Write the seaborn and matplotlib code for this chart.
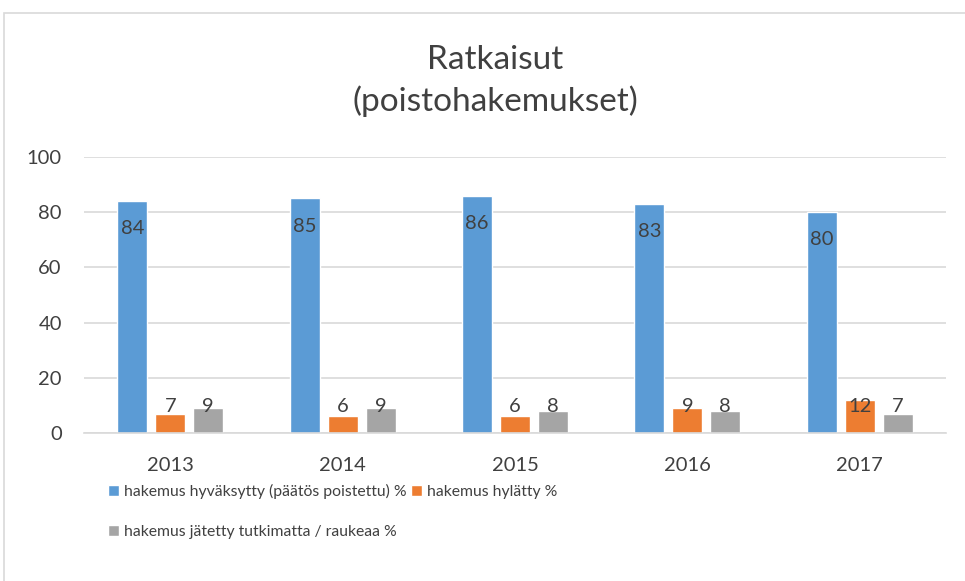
import pandas as pd
import numpy as np
import matplotlib.pyplot as plt
import seaborn as sns
from matplotlib.patches import Rectangle

# Chart data
years = ['2013', '2014', '2015', '2016', '2017']
hyvaksytty = [84, 85, 86, 83, 80]
hylatty = [7, 6, 6, 9, 12]
jatetty = [9, 9, 8, 8, 7]
series_names = ['hakemus hyväksytty (päätös poistettu) %',
                'hakemus hylätty %',
                'hakemus jätetty tutkimatta / raukeaa %']
colors = ['#5B9BD5', '#ED7D31', '#A5A5A5']

df = pd.DataFrame({
    'vuosi': years * 3,
    'arvo': hyvaksytty + hylatty + jatetty,
    'sarja': [series_names[0]] * 5 + [series_names[1]] * 5 + [series_names[2]] * 5,
})

sns.set_style("white")
plt.rcParams['font.family'] = ['Lato', 'DejaVu Sans']
text_color = '#404040'

fig = plt.figure(figsize=(9.65, 5.81), dpi=100)
ax = fig.add_axes([84 / 965, 1 - 433 / 581, 862 / 965, 276 / 581])

sns.barplot(data=df, x='vuosi', y='arvo', hue='sarja', palette=colors,
            width=0.66, gap=0.21, ax=ax, legend=True, saturation=1)

ax.set_ylim(0, 100)
ax.set_yticks(np.arange(0, 101, 20))
ax.yaxis.grid(True, color='#D9D9D9', linewidth=1.2)
ax.set_axisbelow(True)
for s in ['left', 'right', 'top']:
    ax.spines[s].set_visible(False)
ax.spines['bottom'].set_color('#D9D9D9')
ax.spines['bottom'].set_linewidth(1.2)
ax.tick_params(axis='both', length=0, labelsize=14.5, labelcolor=text_color)
ax.tick_params(axis='y', pad=16)
ax.tick_params(axis='x', pad=17)
ax.set_xlabel('')
ax.set_ylabel('')

# value labels near the top of each bar
for container in ax.containers:
    for bar in container:
        h = bar.get_height()
        x = bar.get_x() + bar.get_width() / 2
        ax.text(x, max(h - 10, 9.5), f'{h:.0f}', ha='center', va='center',
                fontsize=14.5, color=text_color)

# legend: two rows, first row two entries
handles, labels = ax.get_legend_handles_labels()
ax.legend_.remove()
order = [0, 2, 1]
fig.legend([handles[i] for i in order], [labels[i] for i in order],
           ncol=2, loc='upper left', bbox_to_anchor=(94 / 965, 1 - 470 / 581),
           frameon=False, fontsize=11.3, labelcolor=text_color,
           handlelength=0.7, handleheight=0.7, handletextpad=0.3,
           columnspacing=0.3, labelspacing=1.65)

fig.text(495 / 965, 1 - 81 / 581, 'Ratkaisut\n(poistohakemukset)', ha='center', va='center',
         fontsize=24, color=text_color, linespacing=1.4)

# chart frame
fig.patches.append(Rectangle((4 / 965, -0.1), 1.1, 1.1 - 13 / 581, transform=fig.transFigure,
                             fill=False, edgecolor='#D9D9D9', linewidth=1.2))

plt.savefig('out.png', dpi=100)
plt.close()
